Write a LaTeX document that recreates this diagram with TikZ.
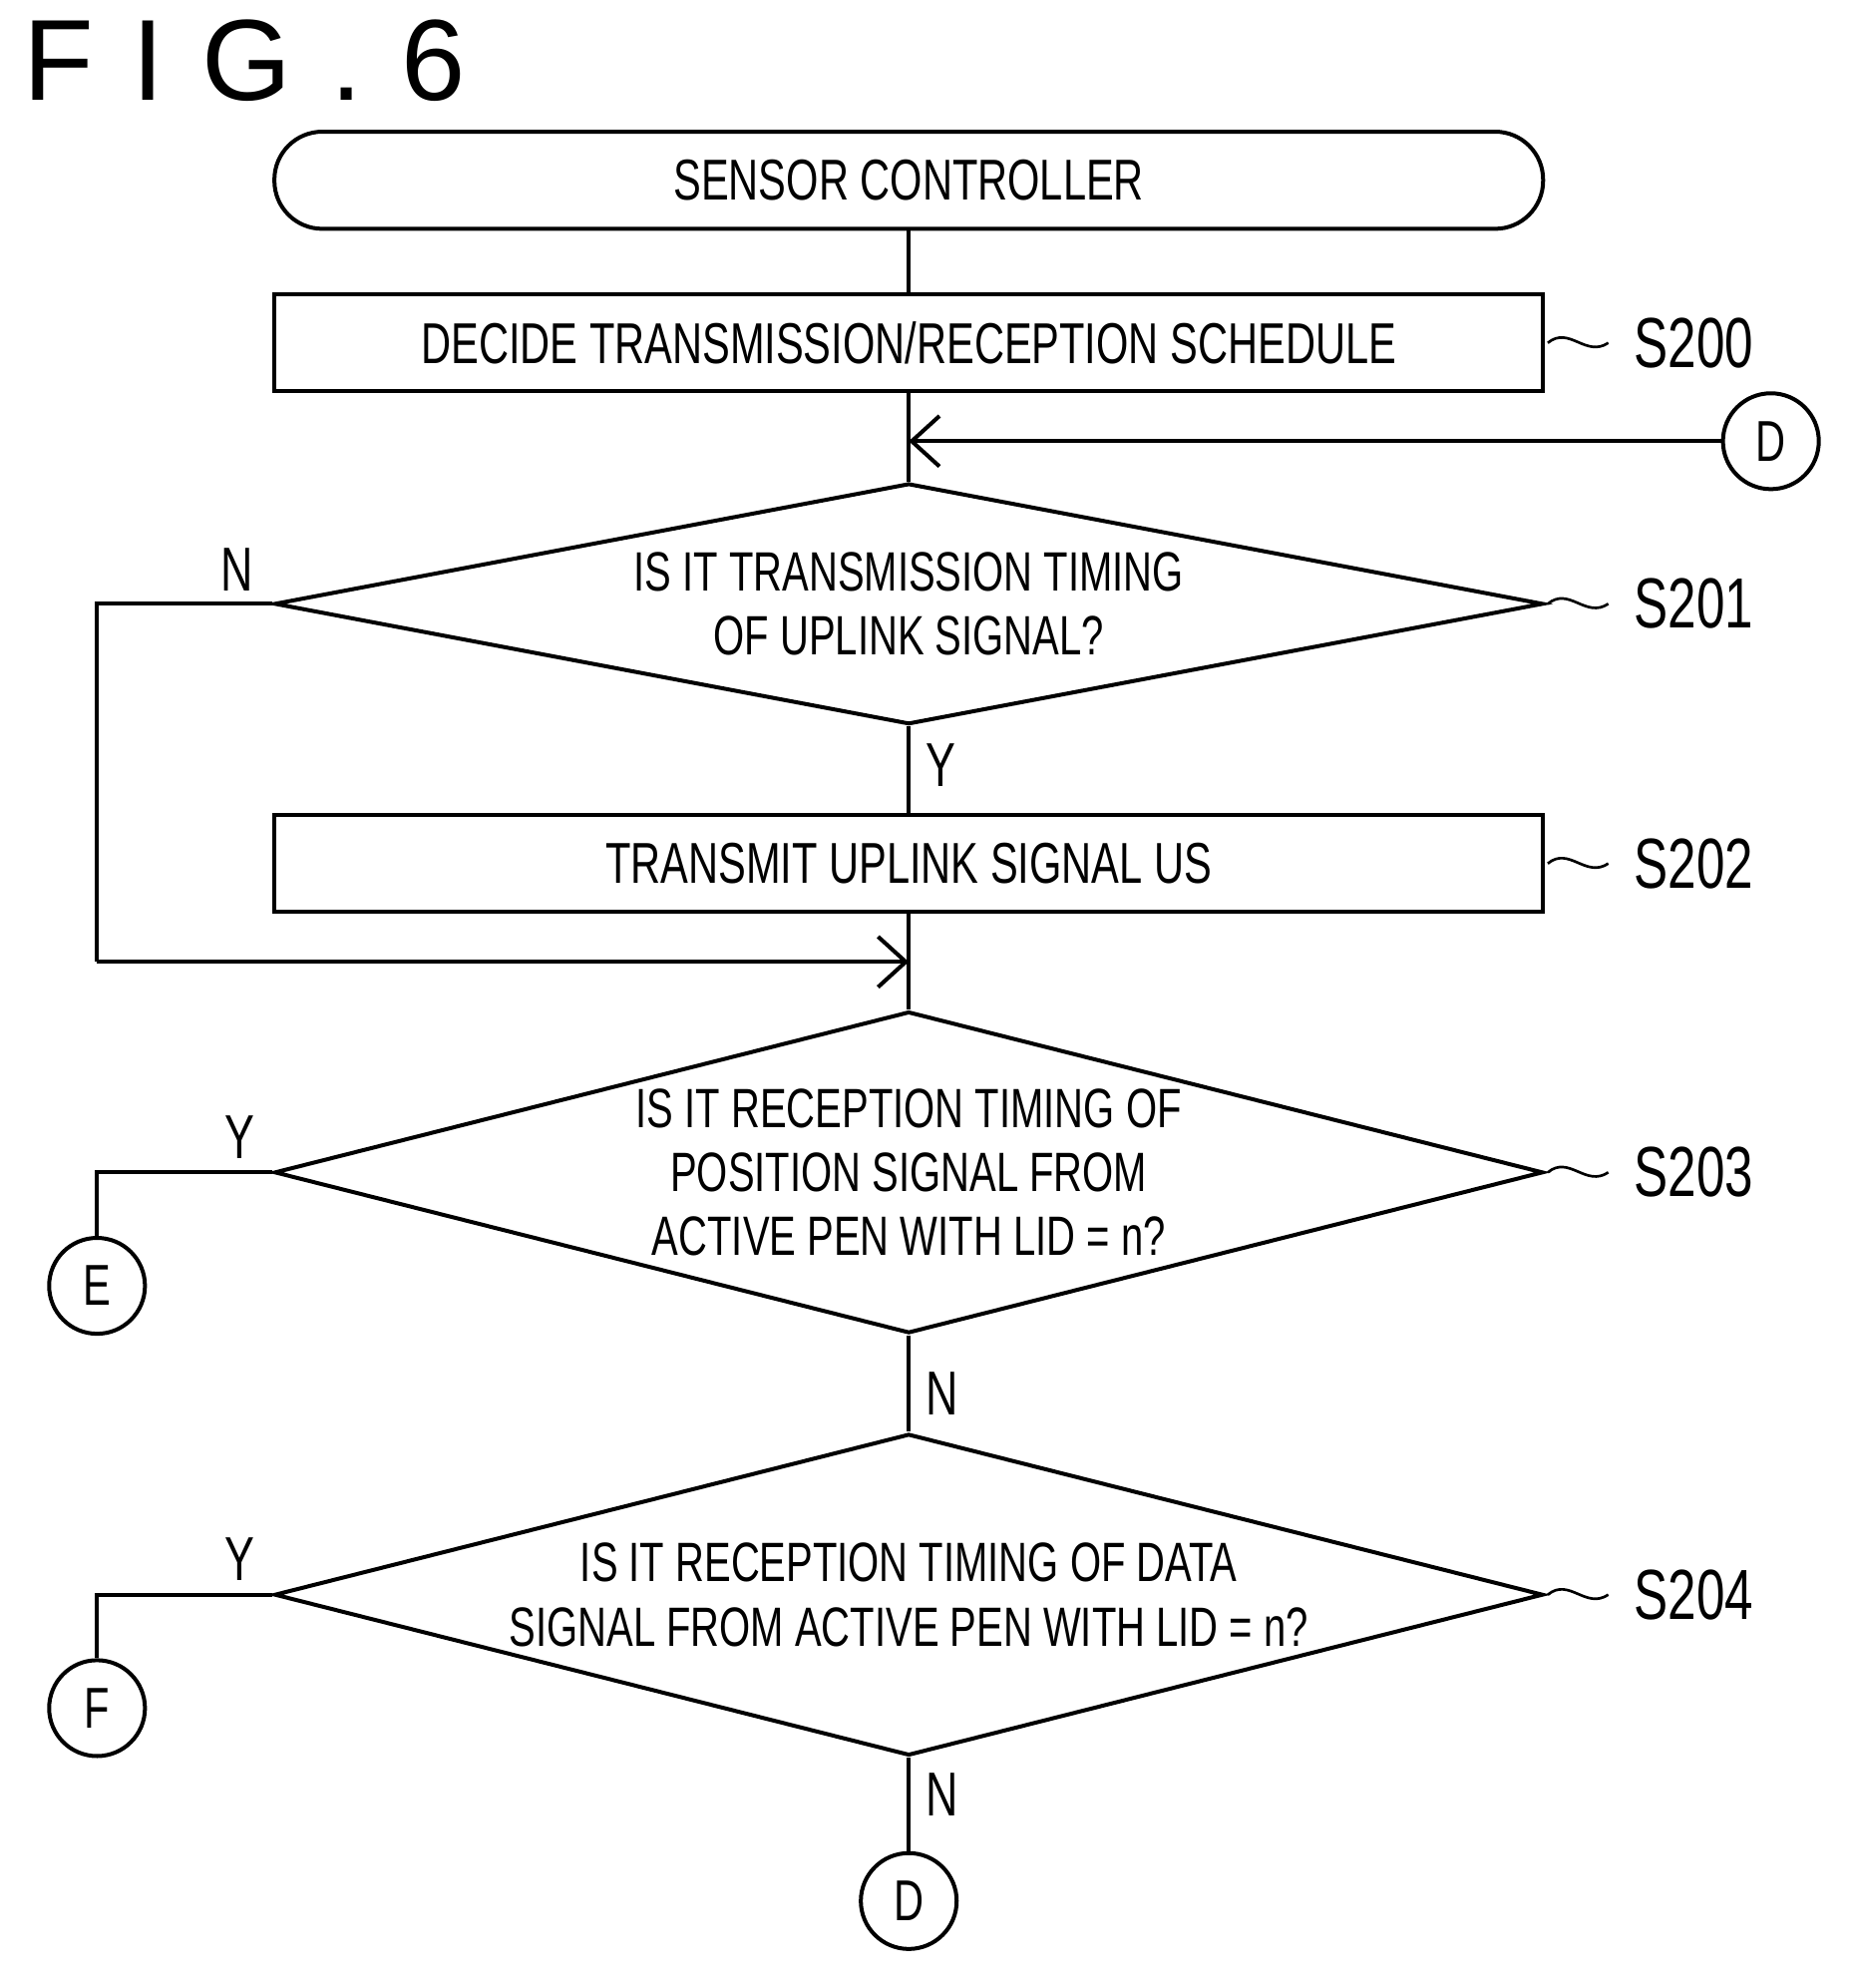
\documentclass[tikz,border=0pt]{standalone}
\usepackage{fontspec}
\setmainfont{Liberation Sans}[FakeStretch=0.72]
\newfontfamily\figfont{Liberation Sans}
\usetikzlibrary{shapes.geometric,arrows.meta}
\tikzset{
  box/.style={draw, line width=0.9pt, minimum width=10.06cm, minimum height=0.77cm, font=\fontsize{13}{15}\selectfont},
  term/.style={box, rounded corners=0.38cm},
  dec/.style={draw, diamond, line width=0.9pt, minimum width=10.06cm, minimum height=#1, aspect=4, inner sep=0pt, align=center, font=\fontsize{12.5}{14.5}\selectfont},
  conn/.style={draw, circle, line width=0.9pt, minimum size=0.76cm, inner sep=0pt, font=\fontsize{13}{15}\selectfont},
  line/.style={line width=0.9pt},
  arr/.style={line width=0.9pt, -{Straight Barb[length=2.2mm, width=4mm]}},
  yn/.style={font=\fontsize{14}{16}\selectfont},
  steplbl/.style={font=\fontsize{16}{18}\selectfont, anchor=west},
  wave/.style={line width=0.6pt}
}
\begin{document}
\begin{tikzpicture}[x=0.01cm, y=-0.01cm]
    \useasboundingbox (0,0) rectangle (1470,1577);
    %Title
    \node[anchor=west, font=\figfont\fontsize{26}{28}\selectfont] at (6, 48) (fig) {F\,\,I\,\,G\,\,.\,\,6};
    %Nodes
    \node[term] at (721, 143) (start) {SENSOR CONTROLLER};
    \node[box] at (721, 272) (s200) {DECIDE TRANSMISSION/RECEPTION SCHEDULE};
    \coordinate (j1) at (721, 350);
    \node[conn] at (1405, 350) (d1) {D};
    \node[dec=1.78cm] at (721, 479) (s201) {IS IT TRANSMISSION TIMING\\OF UPLINK SIGNAL?};
    \node[box] at (721, 685) (s202) {TRANSMIT UPLINK SIGNAL US};
    \coordinate (j2) at (721, 763);
    \coordinate (c1) at (77, 479);
    \coordinate (c2) at (77, 763);
    \node[dec=2.55cm] at (721, 930) (s203) {IS IT RECEPTION TIMING OF\\POSITION SIGNAL FROM\\ACTIVE PEN WITH LID = n?};
    \coordinate (c3) at (77, 930);
    \node[conn] at (77, 1020) (e) {E};
    \node[dec=2.55cm] at (721, 1265) (s204) {IS IT RECEPTION TIMING OF DATA\\SIGNAL FROM ACTIVE PEN WITH LID = n?};
    \coordinate (c4) at (77, 1265);
    \node[conn] at (77, 1355) (f) {F};
    \node[conn] at (721, 1508) (d2) {D};

    %Step labels
    \foreach \y in {272, 479, 685, 930, 1265} {
        \draw[wave] (1228, \y) .. controls (1245, \y-14) and (1258, \y+12) .. (1276, \y);
    }
    \node[steplbl] at (1284, 272) (l200) {S200};
    \node[steplbl] at (1284, 479) (l201) {S201};
    \node[steplbl] at (1284, 685) (l202) {S202};
    \node[steplbl] at (1284, 930) (l203) {S203};
    \node[steplbl] at (1284, 1265) (l204) {S204};

    %Lines
    \draw[line] (start) -- (s200);
    \draw[line] (s200) -- (j1) -- (s201.north);
    \draw[arr] (d1) -- (j1);
    \draw[line] (s201.south) -- (s202) node[yn, pos=0.45, right] {Y};
    \draw[line] (s201.west) -- (c1) -- (c2);
    \node[yn] at (188, 452) (n1) {N};
    \draw[line] (s202) -- (j2) -- (s203.north);
    \draw[arr] (c2) -- (j2);
    \draw[line] (s203.west) -- (c3) -- (e);
    \node[yn] at (190, 902) (y1) {Y};
    \draw[line] (s203.south) -- (s204.north) node[yn, pos=0.6, right] {N};
    \draw[line] (s204.west) -- (c4) -- (f);
    \node[yn] at (190, 1237) (y2) {Y};
    \draw[line] (s204.south) -- (d2) node[yn, pos=0.4, right] {N};
\end{tikzpicture}
\end{document}
